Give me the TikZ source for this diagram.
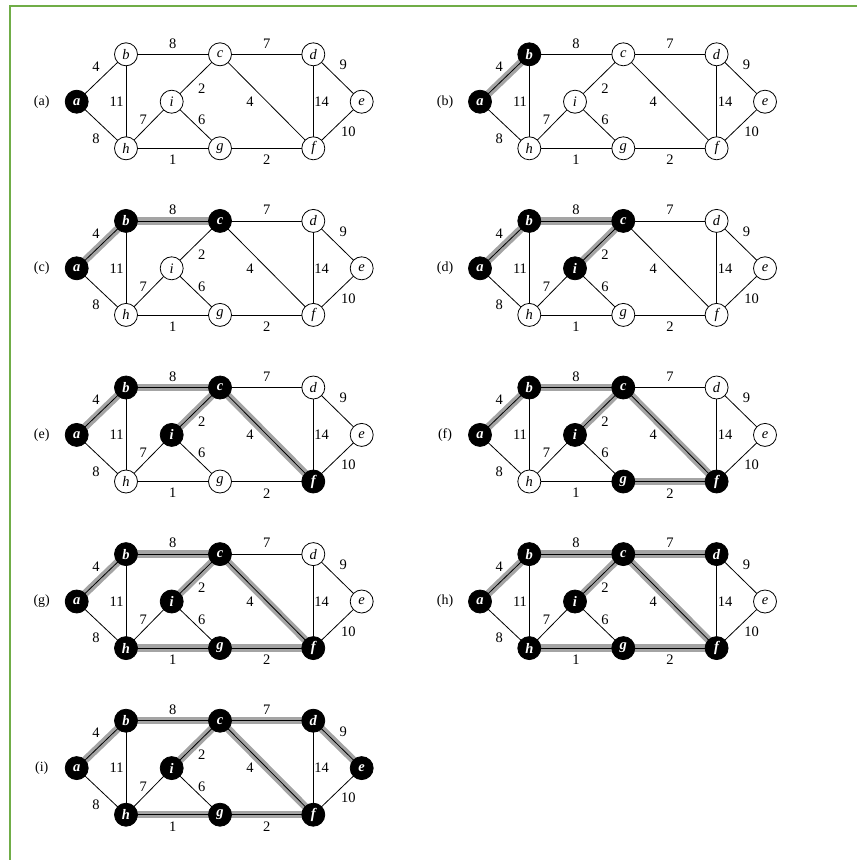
\documentclass[tikz,border=0pt]{standalone}
\usepackage{fontspec}
\setmainfont{Liberation Serif}
\usetikzlibrary{backgrounds}
\definecolor{frame}{HTML}{70AD47}
\definecolor{band}{HTML}{A4A4A4}
\tikzset{
 vnode/.style={circle, draw=black, line width=0.8pt, minimum size=23pt, inner sep=0pt},
 wnode/.style={vnode, fill=white, font=\fontsize{14.5}{14.5}\selectfont\itshape},
 bnode/.style={vnode, fill=black, text=white, font=\fontsize{14.5}{14.5}\selectfont\bfseries\itshape},
 plain/.style={draw=black, line width=0.8pt},
 mst/.style={draw=band, line width=7.5pt},
 wlabel/.style={font=\fontsize{14.5}{14.5}\selectfont, inner sep=0pt},
 plabel/.style={font=\fontsize{14}{14}\selectfont, inner sep=0pt},
 framestyle/.style={draw=frame, line width=2pt},
}
\newcommand\mstpanel[5]{%
\begin{scope}[shift={(#3,#4)}]
\foreach \n/\x/\y/\rk in {a/76.7/101.7/1,b/126/54.3/2,c/220/54.3/3,i/171.7/101.7/4,f/313.3/148.3/5,g/220/148.3/6,h/126/148.3/7,d/313.3/54.3/8,e/361.7/101.7/9}{%
 \ifnum\rk>#5\relax
  \node[wnode] (#1\n) at (\x,\y) {\n};
 \else
  \node[bnode] (#1\n) at (\x,\y) {\n};
 \fi
}
\begin{scope}[on background layer]
\foreach \u/\v/\rk in {a/b/2,b/c/3,c/i/4,c/f/5,g/f/6,h/g/7,c/d/8,d/e/9,a/h/99,b/h/99,h/i/99,i/g/99,d/f/99,e/f/99}{%
 \ifnum\rk>#5\relax\else
  \path[mst] (#1\u.center) -- (#1\v.center);
 \fi
 \path[plain] (#1\u.center) -- (#1\v.center);
}
\end{scope}
\foreach \t/\x/\y [count=\k] in {4/96/66.7, 8/96/138.3, 11/116.7/101.7, 8/172.7/43.3, 7/266.7/43.3, 2/201.7/88.3, 4/250/101.7, 7/143.3/120, 6/201.7/120, 1/172.7/160, 2/266.7/160, 9/343.3/65, 14/321.7/101.7, 10/348.3/131.7}{%
 \node[wlabel] (#1w\k) at (\x,\y) {\t};
}
\node[plabel] (#1lab) at (41.7,101.7) {(#2)};
\end{scope}}
\begin{document}
\begin{tikzpicture}[x=1pt,y=-1pt]
\useasboundingbox (0,0) rectangle (857,860);
\draw[framestyle] (9.5,861) -- (9.5,5.5) -- (858,5.5);
\mstpanel{p1}{a}{0}{0}{1}
\mstpanel{p2}{b}{403.3}{0}{2}
\mstpanel{p3}{c}{0}{166.6}{3}
\mstpanel{p4}{d}{403.3}{166.6}{4}
\mstpanel{p5}{e}{0}{333.2}{5}
\mstpanel{p6}{f}{403.3}{333.2}{6}
\mstpanel{p7}{g}{0}{499.8}{7}
\mstpanel{p8}{h}{403.3}{499.8}{8}
\mstpanel{p9}{i}{0}{666.4}{9}
\end{tikzpicture}
\end{document}
